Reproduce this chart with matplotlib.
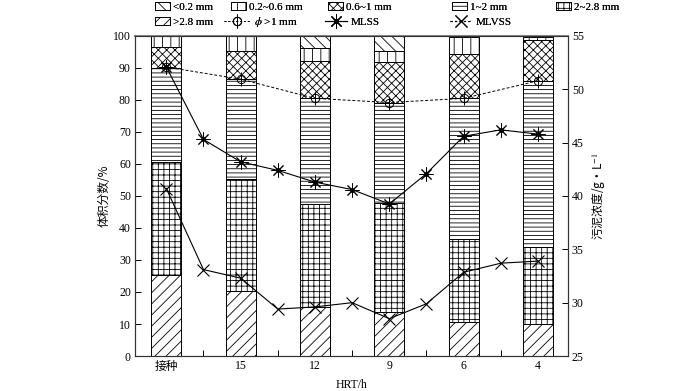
import matplotlib
matplotlib.use("Agg")
import matplotlib.pyplot as plt
from matplotlib.patches import Patch
from matplotlib.lines import Line2D
from matplotlib.legend_handler import HandlerTuple
import numpy as np

plt.rcParams['font.family'] = ['Liberation Serif', 'Noto Sans CJK SC']
plt.rcParams['mathtext.fontset'] = 'stix'
plt.rcParams['hatch.linewidth'] = 0.6

# HRT groups
groups = ['接种', '15', '12', '9', '6', '4']

# volume fraction of each size class (%), stacked bottom to top
gt28 = [25.3, 20.3, 15.2, 13.9, 10.7, 9.9]
s2_28 = [35.2, 35.0, 32.3, 33.9, 25.9, 24.1]
s1_2 = [29.5, 31.2, 33.0, 31.4, 43.9, 52.0]
s06_1 = [6.7, 8.9, 11.8, 12.8, 13.9, 12.75]
s02_06 = [3.3, 4.6, 3.8, 3.4, 5.2, 0.85]
lt02 = [0.0, 0.0, 3.9, 4.6, 0.4, 0.4]

# phi > 1 mm (%), at the bars
phi1 = [90.3, 86.5, 80.5, 79.2, 80.5, 86.0]

# sludge concentration (g/L) at bars and midpoints
conc_x = [0, 0.5, 1, 1.5, 2, 2.5, 3, 3.5, 4, 4.5, 5]
mlss = [52.1, 45.3, 43.2, 42.4, 41.3, 40.6, 39.25, 42.1, 45.6, 46.2, 45.8]
mlvss = [40.7, 33.1, 32.3, 29.4, 29.6, 30.0, 28.5, 29.9, 32.85, 33.7, 33.9]

cjk = ['Noto Sans CJK SC', 'Liberation Serif']

fig = plt.figure(figsize=(7, 3.91), dpi=100)
ax = fig.add_axes([0.193, 0.0895, 0.618, 0.8185])
ax2 = ax.twinx()

x = np.arange(len(groups))
w = 0.405
layers = [
    (gt28, '///', '>2.8 mm'),
    (s2_28, '+++', '2~2.8 mm'),
    (s1_2, '----', '1~2 mm'),
    (s06_1, 'xxxx', '0.6~1 mm'),
    (s02_06, '||', '0.2~0.6 mm'),
    (lt02, '\\\\\\', '<0.2 mm'),
]
bottom = np.zeros(len(groups))
for vals, hatch, lab in layers:
    ax.bar(x, vals, w, bottom=bottom, facecolor='white', edgecolor='black',
           linewidth=0.7, hatch=hatch, zorder=2)
    bottom += np.array(vals)

ax.plot(x, phi1, color='black', linestyle=(0, (3, 2)), linewidth=0.7, zorder=5)
ax.plot(x, phi1, linestyle='none', marker='o', markersize=6, markerfacecolor='none',
        markeredgecolor='black', markeredgewidth=0.7, zorder=6)
ax.plot(x, phi1, linestyle='none', marker='|', markersize=10, color='black',
        markeredgewidth=0.7, zorder=6)

ax2.plot(conc_x, mlss, color='black', linewidth=0.8, marker=(8, 2, 0), markersize=10,
         markeredgewidth=0.7, zorder=5)
ax2.plot(conc_x, mlss, linestyle='none', marker='o', markersize=2.5, color='black', zorder=6)
ax2.plot(conc_x, mlvss, color='black', linewidth=0.8, marker='x', markersize=9,
         markeredgewidth=0.8, zorder=5)

ax.set_xlim(-0.42, 5.40)
ax.set_ylim(0, 100)
ax2.set_ylim(25, 55)
ax.set_yticks(np.arange(0, 101, 10))
ax2.set_yticks(np.arange(25, 56, 5))
ax.set_xticks(x)
ax.set_xticklabels(groups)
ax.set_xticks(x[:-1] + 0.5, minor=True)
ax.get_xticklabels()[0].set_family(cjk)

for a in (ax, ax2):
    a.tick_params(direction='in', length=4, width=0.7, labelsize=8.5, pad=3)
    a.tick_params(which='minor', direction='in', length=4, width=0.7)
    for sp in a.spines.values():
        sp.set_linewidth(0.8)
        sp.set_color('#333333')
ax.spines['top'].set_color('#888888')
ax.spines['top'].set_linewidth(1.5)

ax.set_ylabel('体积分数/%', fontsize=8.5, labelpad=2, family=cjk)
ax2.set_ylabel('污泥浓度/g·L$^{-1}$', fontsize=8.5, labelpad=4, family=cjk)
ax.set_xlabel('HRT/h', fontsize=8.5, labelpad=4)

# legend entries placed one by one
hatch_map = {lab: h for _, h, lab in layers}
def patch(lab):
    return Patch(facecolor='white', edgecolor='black', linewidth=0.7, hatch=hatch_map[lab])

phi_handle = (Line2D([], [], color='black', linestyle=(0, (2, 2)), linewidth=0.7),
              Line2D([], [], linestyle='none', marker='o', markersize=6, markerfacecolor='none',
                     markeredgecolor='black', markeredgewidth=0.7),
              Line2D([], [], linestyle='none', marker='|', markersize=10, color='black',
                     markeredgewidth=0.7))
mlss_handle = (Line2D([], [], color='black', linewidth=0.8, marker=(8, 2, 0), markersize=10,
                      markeredgewidth=0.7),
               Line2D([], [], linestyle='none', marker='o', markersize=2.5, color='black'))
mlvss_handle = Line2D([], [], color='black', linewidth=0.8, linestyle=(0, (2, 2)),
                      marker='x', markersize=9, markeredgewidth=0.8)

entries = [
    (patch('<0.2 mm'), '<0.2 mm', 155, 7, 1.35),
    (patch('0.2~0.6 mm'), '0.2~0.6 mm', 231, 7, 1.35),
    (patch('0.6~1 mm'), '0.6~1 mm', 328, 7, 1.35),
    (patch('1~2 mm'), '1~2 mm', 452, 7, 1.35),
    (patch('2~2.8 mm'), '2~2.8 mm', 556, 7, 1.35),
    (patch('>2.8 mm'), '>2.8 mm', 155, 22, 1.35),
    (phi_handle, '$\\phi$ >1 mm', 224, 22, 2.4),
    (mlss_handle, 'MLSS', 325, 22, 2.0),
    (mlvss_handle, 'MLVSS', 450, 22, 2.0),
]
for h, lab, px, py, hl in entries:
    leg = fig.legend([h], [lab], loc='center left', bbox_to_anchor=(px / 700, 1 - py / 391),
                     frameon=False, fontsize=8, borderpad=0, borderaxespad=0,
                     handlelength=hl, handleheight=0.75, handletextpad=0.3,
                     handler_map={tuple: HandlerTuple(ndivide=1, pad=0)})
    fig.add_artist(leg)

fig.savefig('out.png', dpi=100)
